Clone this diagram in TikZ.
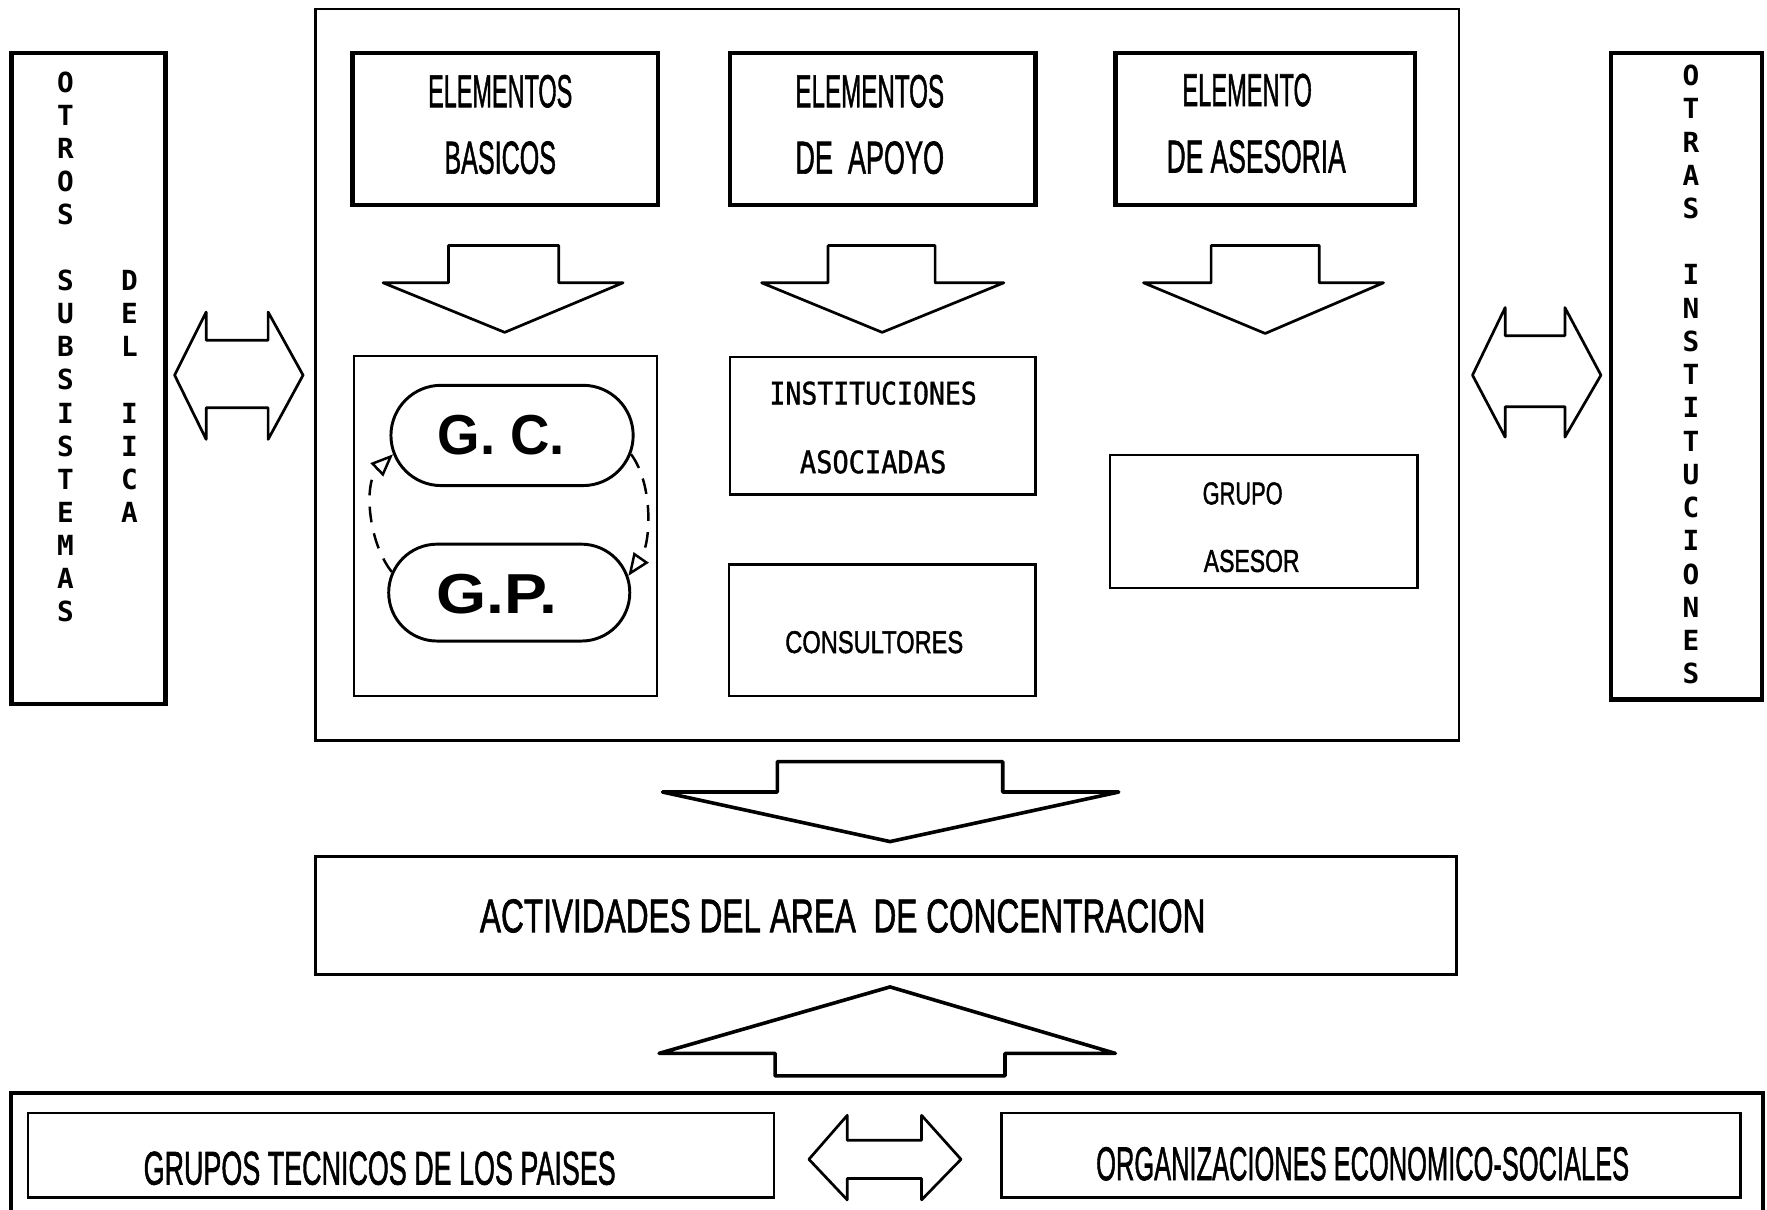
\documentclass[tikz,border=0pt]{standalone}
\usepackage{fontspec}
\setmainfont{Liberation Sans}
\newfontfamily\heavyf[FakeBold=1.6]{Liberation Sans}
\newfontfamily\monof{DejaVu Sans Mono}
\newfontfamily\heavymono[FakeBold=1.2]{DejaVu Sans Mono}
\usetikzlibrary{arrows.meta,shapes.misc}
\newcommand\fitw[2]{\resizebox{#1}{\height}{#2}}
\begin{document}
\begin{tikzpicture}[x=0.5pt,y=-0.5pt,
  thickbox/.style={draw,line width=2pt,inner sep=0pt,minimum width=#1},
  medbox/.style={draw,line width=1.3pt,inner sep=0pt},
  thinbox/.style={draw,line width=1.1pt,inner sep=0pt},
  stadium/.style={draw,rounded rectangle,line width=1.3pt,inner sep=0pt},
  blockarrow/.style={draw,line width=1.2pt,line join=round,fill=white},
  bigarrow/.style={draw,line width=1.6pt,line join=round,fill=white},
  bigtxt/.style={inner sep=0pt,font=\heavyf\fontsize{20.5}{22}\selectfont},
  midtxt/.style={inner sep=0pt,font=\heavyf\fontsize{21}{23}\selectfont},
  smalltxt/.style={inner sep=0pt,font=\heavyf\fontsize{14}{16}\selectfont},
  monotxt/.style={inner sep=0pt,font=\heavymono\fontsize{13.7}{15}\selectfont},
  gtxt/.style={inner sep=0pt,font=\bfseries\fontsize{25}{27}\selectfont},
  vlet/.style={inner sep=0pt,font=\monof\bfseries\fontsize{12.3}{13}\selectfont},
  cyc/.style={draw,line width=1.1pt,dash pattern=on 7pt off 5pt,
    -{Triangle[open,length=10pt,width=8pt,line width=1.1pt]}}
]
\useasboundingbox (0,0) rectangle (1568.4,1074);

% ---- side boxes ----
\node[thickbox=68.5pt,minimum height=289pt] (left) at (78.5,336) {};
\node[thickbox=67pt,minimum height=287pt] (right) at (1497,334) {};
\foreach \c/\k in {O/0,T/1,R/2,O/3,S/4,S/6,U/7,B/8,S/9,I/10,S/11,T/12,E/13,M/14,A/15,S/16}
  \node[vlet] (la\k) at (58,73+29.35*\k) {\c};
\foreach \c/\k in {D/6,E/7,L/8,I/10,I/11,C/12,A/13}
  \node[vlet] (lb\k) at (115,73+29.35*\k) {\c};
\foreach \c/\k in {O/0,T/1,R/2,A/3,S/4,I/6,N/7,S/8,T/9,I/10,T/11,U/12,C/13,I/14,O/15,N/16,E/17,S/18}
  \node[vlet] (ra\k) at (1501,67+29.5*\k) {\c};

% ---- side double arrows ----
\draw[blockarrow] (155,333) -- (183,277) -- (183,302) -- (238,302) -- (238,277) -- (269,333)
  -- (238,390) -- (238,362) -- (183,362) -- (183,390) -- cycle;
\draw[blockarrow] (1307,333) -- (1336,273) -- (1336,298) -- (1389,298) -- (1389,273) -- (1421,333)
  -- (1389,388) -- (1389,361) -- (1336,361) -- (1336,388) -- cycle;

% ---- main box ----
\node[medbox,minimum width=507.5pt,minimum height=324.5pt] (main) at (787.5,332.5) {};

\node[thickbox=135.5pt,minimum height=67.5pt] (b1) at (448.5,114.5) {};
\node[thickbox=135.5pt,minimum height=67.5pt] (b2) at (783.5,114.5) {};
\node[thickbox=133pt,minimum height=67.5pt] (b3) at (1123,114.5) {};
\node[bigtxt] (b1a) at (444,81) {\fitw{64pt}{ELEMENTOS}};
\node[bigtxt] (b1b) at (444,140) {\fitw{49.5pt}{BASICOS}};
\node[bigtxt] (b2a) at (772,81) {\fitw{66pt}{ELEMENTOS}};
\node[bigtxt] (b2b) at (772,140) {\fitw{66pt}{DE\ \ APOYO}};
\node[bigtxt] (b3a) at (1107,80) {\fitw{57.5pt}{ELEMENTO}};
\node[bigtxt] (b3b) at (1115,139) {\fitw{79.5pt}{DE ASESORIA}};

% down arrows
\draw[blockarrow] (398,218) -- (496,218) -- (496,251) -- (553,251) -- (448,295) -- (340,251) -- (398,251) -- cycle;
\draw[blockarrow] (735,218) -- (830,218) -- (830,251) -- (891,251) -- (783,295) -- (676,251) -- (735,251) -- cycle;
\draw[blockarrow] (1075,218) -- (1171,218) -- (1171,251) -- (1228,251) -- (1123,296) -- (1015,251) -- (1075,251) -- cycle;

% G.C. / G.P.
\node[thinbox,minimum width=134.5pt,minimum height=151pt] (cont) at (448.5,467) {};
\node[stadium,minimum width=107.5pt,minimum height=44.5pt] (gc) at (454.5,386.5) {};
\node[stadium,minimum width=107pt,minimum height=43pt] (gp) at (452,526) {};
\node[gtxt] (gct) at (445,386) {\fitw{56.5pt}{G. C.}};
\node[gtxt] (gpt) at (441,527) {\fitw{53.5pt}{G.P.}};
\draw[cyc] (gp.170) .. controls (326,480) and (323,428) .. (gc.189);
\draw[cyc] (gc.351) .. controls (580,430) and (578,482) .. (gp.8);

% middle column
\node[thinbox,minimum width=135.5pt,minimum height=61pt] (inst) at (783.5,378) {};
\node[thinbox,minimum width=136pt,minimum height=58.5pt] (cons) at (783,559.5) {};
\node[monotxt] (insta) at (775,349) {\fitw{92pt}{INSTITUCIONES}};
\node[monotxt] (instb) at (775,410) {\fitw{65pt}{ASOCIADAS}};
\node[smalltxt] (const) at (776,570) {\fitw{79pt}{CONSULTORES}};

% right column
\node[thinbox,minimum width=136.5pt,minimum height=59pt] (grupo) at (1121.5,463) {};
\node[smalltxt] (grupoa) at (1103,438) {\fitw{35.5pt}{GRUPO}};
\node[smalltxt] (grupob) at (1111,498) {\fitw{42.5pt}{ASESOR}};

% ---- lower part ----
\draw[bigarrow] (690,676) -- (890,676) -- (890,703) -- (993,703) -- (790,747) -- (588,703) -- (690,703) -- cycle;
\node[medbox,minimum width=506.5pt,minimum height=52.5pt] (act) at (786.5,812.5) {};
\node[midtxt] (actt) at (748,813) {\fitw{322pt}{ACTIVIDADES DEL AREA\ \ DE CONCENTRACION}};
\draw[bigarrow] (790,876) -- (990,935) -- (892,935) -- (892,955) -- (688,955) -- (688,935) -- (585,935) -- cycle;

\draw[line width=1.6pt] (10,1080) -- (10,970) -- (1565,970) -- (1565,1080);
\node[thinbox,minimum width=331pt,minimum height=37.5pt] (gt) at (356,1025.5) {};
\node[thinbox,minimum width=328pt,minimum height=37.5pt] (oe) at (1217,1025.5) {};
\node[midtxt] (gtt) at (337,1037) {\fitw{209.5pt}{GRUPOS TECNICOS DE LOS PAISES}};
\node[midtxt] (oet) at (1209.5,1033) {\fitw{236.5pt}{ORGANIZACIONES ECONOMICO-SOCIALES}};
\draw[blockarrow] (718,1029) -- (752,990) -- (752,1012) -- (818,1012) -- (818,990) -- (853,1029)
  -- (818,1065) -- (818,1046) -- (752,1046) -- (752,1065) -- cycle;
\end{tikzpicture}
\end{document}
